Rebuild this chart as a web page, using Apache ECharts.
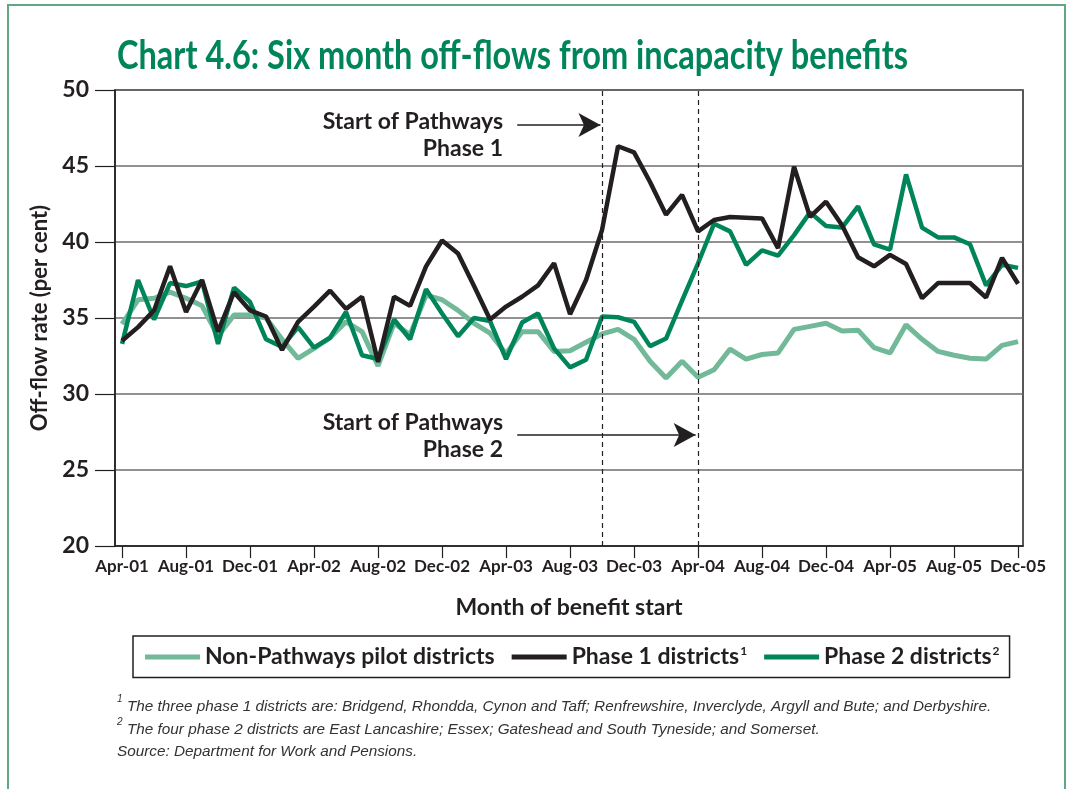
<!DOCTYPE html>
<html>
<head>
<meta charset="utf-8">
<script src="https://cdn.jsdelivr.net/npm/echarts@6/dist/echarts.min.js"></script>
<style>
  html, body { margin: 0; padding: 0; background: #fff; }
  /* green frame round the whole figure, bottom edge runs off the page */
  #frame { position: absolute; left: 7px; top: 4px; width: 1059px; height: 830px; border: 2px solid #5fa882; box-sizing: border-box; }
  #chart { position: absolute; left: 0; top: 0; width: 1069px; height: 789px; }
</style>
</head>
<body>
<div id="frame"></div>
<div id="chart"></div>
<script>
// Chart 4.6 — six month off-flows from incapacity benefits, Apr-01 .. Dec-05 (monthly)
const FONT = 'Lato, "Liberation Sans", sans-serif'
const NOTE_FONT = '"Liberation Sans", Arial, sans-serif'
const INK = '#231f20'
const GREEN = '#00855a'
const LIGHT = '#72b999'
const TITLE = 'Chart 4.6: Six month off-flows from incapacity benefits'

// x = month index from Apr-01 (0) to Dec-05 (56)
const tickMonths = [0, 4, 8, 12, 16, 20, 24, 28, 32, 36, 40, 44, 48, 52, 56]
const tickLabels = ['Apr-01', 'Aug-01', 'Dec-01', 'Apr-02', 'Aug-02', 'Dec-02', 'Apr-03', 'Aug-03',
  'Dec-03', 'Apr-04', 'Aug-04', 'Dec-04', 'Apr-05', 'Aug-05', 'Dec-05']

const nonPathways = [
  34.6, 36.2, 36.3, 36.7, 36.3, 35.8, 33.8, 35.2, 35.2, 35.0,
  33.6, 32.35, 33.0, 33.7, 34.75, 34.1, 31.85, 34.65, 33.9, 36.5,
  36.2, 35.5, 34.65, 34.0, 32.65, 34.1, 34.1, 32.8, 32.85, 33.4,
  33.95, 34.25, 33.6, 32.15, 31.05, 32.15, 31.1, 31.6, 32.95, 32.3,
  32.6, 32.7, 34.25, 34.45, 34.65, 34.15, 34.2, 33.05, 32.7, 34.55,
  33.6, 32.8, 32.55, 32.35, 32.3, 33.2, 33.45,
]
const phase1 = [
  33.5, 34.4, 35.5, 38.4, 35.4, 37.5, 34.1, 36.7, 35.5, 35.1,
  32.9, 34.75, 35.75, 36.8, 35.6, 36.4, 32.1, 36.4, 35.8, 38.4,
  40.1, 39.25, 37.1, 34.9, 35.75, 36.4, 37.15, 38.6, 35.25, 37.5,
  40.8, 46.3, 45.9, 43.95, 41.8, 43.1, 40.7, 41.45, 41.65, 41.6,
  41.55, 39.6, 44.95, 41.65, 42.65, 41.1, 39.0, 38.4, 39.15, 38.55,
  36.3, 37.3, 37.3, 37.3, 36.35, 38.95, 37.25,
]
const phase2 = [
  33.3, 37.5, 34.9, 37.3, 37.1, 37.4, 33.3, 37.0, 36.05, 33.6,
  33.1, 34.4, 33.05, 33.7, 35.4, 32.55, 32.3, 34.9, 33.6, 36.9,
  35.3, 33.8, 35.0, 34.8, 32.3, 34.7, 35.3, 33.0, 31.75, 32.25,
  35.1, 35.05, 34.75, 33.15, 33.65, 36.15, 38.6, 41.2, 40.7, 38.5,
  39.45, 39.1, 40.45, 41.95, 41.05, 40.95, 42.35, 39.85, 39.5, 44.45,
  40.95, 40.3, 40.3, 39.85, 37.15, 38.5, 38.3,
]

// Pathways start months: Oct-03 (phase 1), Apr-04 (phase 2)
const pathwaysStarts = [30, 36]
// annotation arrows, in data space: [from, to]
const arrowPhase1 = [[24.7, 47.7], [29.9, 47.7]]
const arrowPhase2 = [[24.7, 27.3], [35.85, 27.3]]

const toPoints = (vals) => vals.map((v, i) => [i, v])
const monthLabel = (v) => tickLabels[tickMonths.indexOf(v)] ?? ''

// title in the original is a condensed face: squeeze Lato to the same width
const titleFont = `bold 40px ${FONT}`
const ctx = document.createElement('canvas').getContext('2d')
ctx.font = titleFont
const titleScale = 791 / ctx.measureText(TITLE).width

const noteStyle = (text) => ({ text, font: `italic 15.3px ${NOTE_FONT}`, fill: '#333' })
const annoStyle = (text) => ({
  text, font: `bold 23px ${FONT}`, fill: INK,
  align: 'right', textAlign: 'right', verticalAlign: 'middle', textVerticalAlign: 'middle',
})

const chart = echarts.init(document.getElementById('chart'))

chart.setOption({
  animation: false,
  grid: { left: 115, right: 46, top: 90, bottom: 243, show: true, borderColor: INK, borderWidth: 1.5 },
  xAxis: {
    type: 'value',
    min: -0.44,
    max: 56.31,
    name: 'Month of benefit start',
    nameLocation: 'middle',
    nameGap: 50,
    nameTextStyle: { fontFamily: FONT, fontWeight: 'bold', fontSize: 23, color: INK },
    axisLine: { show: true, lineStyle: { color: INK, width: 1.5 } },
    axisTick: { show: true, customValues: tickMonths, length: 12, lineStyle: { color: INK, width: 1.2 } },
    axisLabel: {
      customValues: tickMonths,
      formatter: monthLabel,
      margin: 12,
      fontFamily: FONT, fontWeight: 'bold', fontSize: 17, color: INK,
    },
    splitLine: { show: false },
  },
  yAxis: {
    type: 'value',
    min: 20,
    max: 50,
    interval: 5,
    name: 'Off-flow rate (per cent)',
    nameLocation: 'middle',
    nameGap: 64,
    nameTextStyle: { fontFamily: FONT, fontWeight: 'bold', fontSize: 22, color: INK },
    axisLine: { show: true, onZero: false, lineStyle: { color: INK, width: 1.5 } },
    axisTick: { show: true, inside: false, length: 20, lineStyle: { color: INK, width: 1.2 } },
    axisLabel: { margin: 26, fontFamily: FONT, fontWeight: 'bold', fontSize: 23, color: INK },
    splitLine: { show: true, lineStyle: { color: '#6d6d6d', width: 1.5 } },
  },
  legend: {
    left: 133,
    top: 636,
    data: ['Non-Pathways pilot districts', 'Phase 1 districts', 'Phase 2 districts'],
    icon: 'rect',
    itemWidth: 55,
    itemHeight: 5,
    itemGap: 17,
    borderColor: INK,
    borderWidth: 1.5,
    padding: [9, 10, 9, 12],
    textStyle: {
      fontFamily: FONT, fontWeight: 'bold', fontSize: 23, color: INK,
      rich: {
        n: { fontFamily: FONT, fontWeight: 'bold', fontSize: 23, color: INK },
        sup: { fontFamily: FONT, fontWeight: 'bold', fontSize: 12, color: INK, verticalAlign: 'top', padding: [0, 0, 12, 1] },
      },
    },
    formatter: (name) => {
      if (name === 'Phase 1 districts') return '{n|Phase 1 districts}{sup|1}'
      if (name === 'Phase 2 districts') return '{n|Phase 2 districts}{sup|2}'
      return '{n|' + name + '}'
    },
  },
  graphic: [
    {
      type: 'text', x: 117, y: 36, scaleX: titleScale,
      style: { text: TITLE, font: titleFont, fill: GREEN },
    },
    { type: 'text', x: 503, y: 122, style: annoStyle('Start of Pathways') },
    { type: 'text', x: 503, y: 149, style: annoStyle('Phase 1') },
    { type: 'text', x: 503, y: 423, style: annoStyle('Start of Pathways') },
    { type: 'text', x: 503, y: 450, style: annoStyle('Phase 2') },
    // footnotes
    { type: 'text', left: 117, top: 694, style: { text: '1', font: `italic 10px ${NOTE_FONT}`, fill: '#333' } },
    {
      type: 'text', left: 127, top: 699,
      style: noteStyle('The three phase 1 districts are: Bridgend, Rhondda, Cynon and Taff; Renfrewshire, Inverclyde, Argyll and Bute; and Derbyshire.'),
    },
    { type: 'text', left: 117, top: 717, style: { text: '2', font: `italic 10px ${NOTE_FONT}`, fill: '#333' } },
    {
      type: 'text', left: 127, top: 722,
      style: noteStyle('The four phase 2 districts are East Lancashire; Essex; Gateshead and South Tyneside; and Somerset.'),
    },
    { type: 'text', left: 117, top: 744, style: noteStyle('Source: Department for Work and Pensions.') },
  ],
  series: [
    {
      name: 'Non-Pathways pilot districts',
      type: 'line',
      data: toPoints(nonPathways),
      symbol: 'none',
      lineStyle: { color: LIGHT, width: 5 },
      itemStyle: { color: LIGHT },
      z: 2,
    },
    {
      name: 'Phase 2 districts',
      type: 'line',
      data: toPoints(phase2),
      symbol: 'none',
      lineStyle: { color: GREEN, width: 4.5 },
      itemStyle: { color: GREEN },
      z: 3,
      // arrows pointing at the two start lines
      markLine: {
        silent: true,
        symbol: ['none', 'arrow'],
        symbolSize: [18, 22],
        label: { show: false },
        lineStyle: { color: INK, width: 1.5, type: 'solid' },
        data: [
          [{ coord: arrowPhase1[0] }, { coord: arrowPhase1[1] }],
          [{ coord: arrowPhase2[0] }, { coord: arrowPhase2[1] }],
        ],
      },
    },
    {
      name: 'Phase 1 districts',
      type: 'line',
      data: toPoints(phase1),
      symbol: 'none',
      lineStyle: { color: INK, width: 4.5 },
      itemStyle: { color: INK },
      z: 4,
      markLine: {
        silent: true,
        symbol: 'none',
        label: { show: false },
        lineStyle: { color: INK, width: 1.2, type: [5, 4] },
        data: pathwaysStarts.map((m) => ({ xAxis: m })),
      },
    },
  ],
})
</script>
</body>
</html>
